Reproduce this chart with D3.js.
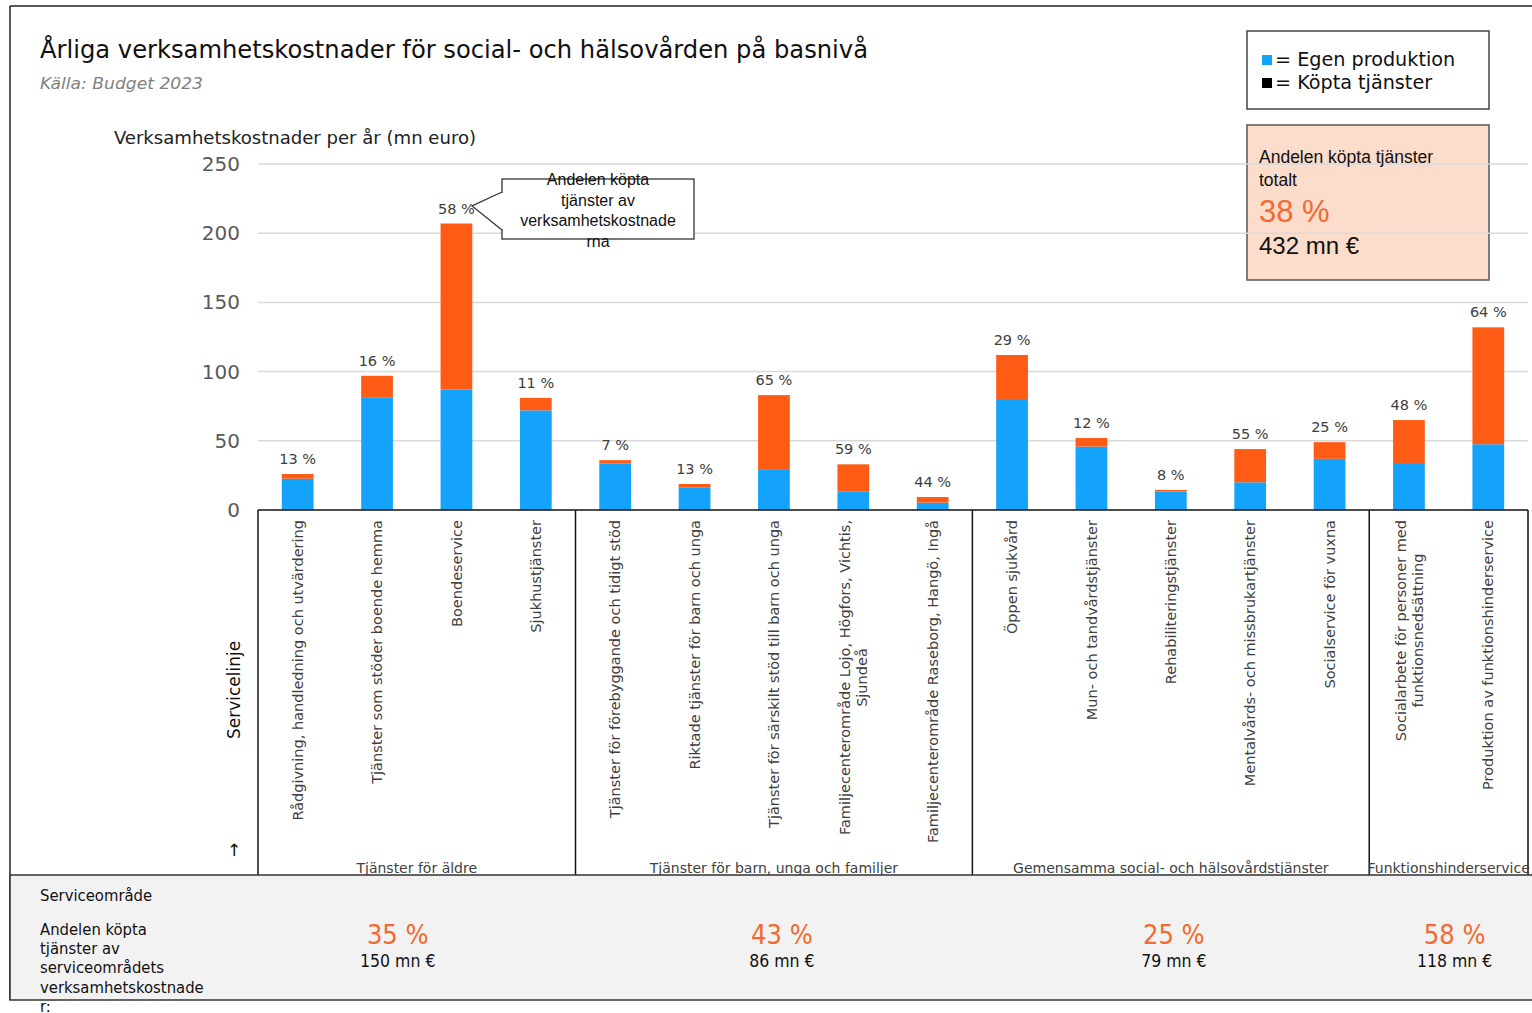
<!DOCTYPE html>
<html><head><meta charset="utf-8">
<script src="https://cdn.jsdelivr.net/npm/d3@7"></script>
<style>body{margin:0;background:#fff}svg{display:block}</style>
</head><body>
<svg id="c" width="1532" height="1013"></svg>
<script>
const categories = [
  "Rådgivning, handledning och utvärdering",
  "Tjänster som stöder boende hemma",
  "Boendeservice",
  "Sjukhustjänster",
  "Tjänster för förebyggande och tidigt stöd",
  "Riktade tjänster för barn och unga",
  "Tjänster för särskilt stöd till barn och unga",
  "Familjecenterområde Lojo, Högfors, Vichtis,\nSjundeå",
  "Familjecenterområde Raseborg, Hangö, Ingå",
  "Öppen sjukvård",
  "Mun- och tandvårdstjänster",
  "Rehabiliteringstjänster",
  "Mentalvårds- och missbrukartjänster",
  "Socialservice för vuxna",
  "Socialarbete för personer med\nfunktionsnedsättning",
  "Produktion av funktionshinderservice"
];
const egenProduktion = [22.6, 81.5, 87, 72, 33.5, 16.4, 29, 13.5, 5.3, 79.5, 45.8, 13.3, 20, 37, 34, 47.5];
const koptaTjanster  = [3.4, 15.5, 120, 9, 2.5, 2.4, 54, 19.5, 4.1, 32.5, 6.2, 1.2, 24, 12, 31, 84.5];
const shareLabels = ["13 %","16 %","58 %","11 %","7 %","13 %","65 %","59 %","44 %","29 %","12 %","8 %","55 %","25 %","48 %","64 %"];
const groups = ["Tjänster för äldre","Tjänster för barn, unga och familjer","Gemensamma social- och hälsovårdstjänster","Funktionshinderservice"];
const groupSizes = [4, 5, 5, 2];
const groupShare = ["35 %","43 %","25 %","58 %"];
const groupKopta = ["150 mn €","86 mn €","79 mn €","118 mn €"];
const yTicks = [0, 50, 100, 150, 200, 250];
const legendItems = ["= Egen produktion", "= Köpta tjänster"];
const totalShare = "38 %";
const totalKopta = "432 mn €";

const BLUE = "#14a3fa", ORANGE = "#fe5c15", ACC = "#f26a2e";
const FONT = "'DejaVu Sans', Verdana, sans-serif";
const COND = "'DejaVu Sans Condensed', 'DejaVu Sans', sans-serif";
const ARIAL = "'Liberation Sans', Arial, sans-serif";
// layout nudges for the bottom summary values (px from group centre)
const summaryShift = [-19, 8, 3, 6];

const svg = d3.select("#c");
const x = d3.scaleBand().domain(d3.range(categories.length)).range([258, 1528]).paddingInner(0.6).paddingOuter(0.3);
const y = d3.scaleLinear().domain([0, 250]).range([510, 164]);

// frame
svg.append("line").attr("x1",10).attr("x2",1532).attr("y1",6).attr("y2",6).attr("stroke","#222").attr("stroke-width",1.5);
svg.append("line").attr("x1",10).attr("x2",10).attr("y1",6).attr("y2",1000).attr("stroke","#222").attr("stroke-width",1.5);

// title
svg.append("text").attr("x",40).attr("y",58).attr("font-family",COND).attr("font-size",24).attr("fill","#111")
  .attr("textLength",828).attr("lengthAdjust","spacingAndGlyphs")
  .text("Årliga verksamhetskostnader för social- och hälsovården på basnivå");
svg.append("text").attr("x",40).attr("y",89).attr("font-family",COND).attr("font-style","italic").attr("font-size",16).attr("fill","#7f7f7f")
  .attr("textLength",163).attr("lengthAdjust","spacingAndGlyphs").text("Källa: Budget 2023");
svg.append("text").attr("x",114).attr("y",144).attr("font-family",COND).attr("font-size",18.5).attr("fill","#222")
  .attr("textLength",362).attr("lengthAdjust","spacingAndGlyphs").text("Verksamhetskostnader per år (mn euro)");

// total box (under gridlines)
svg.append("rect").attr("x",1247).attr("y",125).attr("width",242).attr("height",155).attr("fill","#fcdccb").attr("stroke","#555").attr("stroke-width",1.5);

// gridlines
svg.append("g").selectAll("line").data(yTicks.filter(d=>d>0)).join("line")
  .attr("x1",258).attr("x2",1528).attr("y1",d=>y(d)).attr("y2",d=>y(d)).attr("stroke","#d9d9d9").attr("stroke-width",1.5);

// y axis via d3.axisLeft
const yAxis = svg.append("g").attr("transform","translate(258,0)")
  .call(d3.axisLeft(y).tickValues(yTicks).tickSize(0).tickPadding(18));
yAxis.select(".domain").remove();
yAxis.selectAll("text").attr("font-family",FONT).attr("font-size",20).attr("fill","#595959");

// total box text
const tb = svg.append("g").attr("font-family",ARIAL);
tb.append("text").attr("x",1259).attr("y",163).attr("font-size",17.5).attr("fill","#111").text("Andelen köpta tjänster");
tb.append("text").attr("x",1259).attr("y",186).attr("font-size",17.5).attr("fill","#111").text("totalt");
tb.append("text").attr("x",1259).attr("y",222).attr("font-size",31).attr("fill",ACC).text(totalShare);
tb.append("text").attr("x",1259).attr("y",254).attr("font-size",24).attr("fill","#111").text(totalKopta);

// legend
svg.append("rect").attr("x",1247).attr("y",31).attr("width",242).attr("height",78).attr("fill","#fff").attr("stroke","#444").attr("stroke-width",1.5);
const legColors = [BLUE, "#000"];
legendItems.forEach((t,i)=>{
  svg.append("rect").attr("x",1262).attr("y",55+i*23).attr("width",10).attr("height",10).attr("fill",legColors[i]);
  svg.append("text").attr("x",1275).attr("y",66+i*23).attr("font-family",FONT).attr("font-size",19.2).attr("fill","#111").text(t);
});

// bars
const stackData = categories.map((c,i)=>({i, egen: egenProduktion[i], kopta: koptaTjanster[i]}));
const series = d3.stack().keys(["egen","kopta"])(stackData);
const colors = {egen: BLUE, kopta: ORANGE};
svg.append("g").selectAll("g").data(series).join("g").attr("fill",d=>colors[d.key])
  .selectAll("rect").data(d=>d).join("rect")
  .attr("x",d=>x(d.data.i)).attr("width",x.bandwidth())
  .attr("y",d=>y(d[1])).attr("height",d=>y(d[0])-y(d[1]));

// share labels
svg.append("g").selectAll("text").data(stackData).join("text")
  .attr("x",d=>x(d.i)+x.bandwidth()/2).attr("y",d=>y(d.egen+d.kopta)-10)
  .attr("text-anchor","middle").attr("font-family",FONT).attr("font-size",14.5).attr("fill","#404040")
  .text(d=>shareLabels[d.i]);

// callout
const co = svg.append("g");
co.append("rect").attr("x",502).attr("y",179).attr("width",192).attr("height",60).attr("fill","#fff").attr("stroke","#333").attr("stroke-width",1.3);
co.append("path").attr("d","M502,192 L472,206 L502,230").attr("fill","#fff").attr("stroke","#333").attr("stroke-width",1.3);
co.append("line").attr("x1",502).attr("x2",502).attr("y1",193).attr("y2",229).attr("stroke","#fff").attr("stroke-width",2);
["Andelen köpta","tjänster av","verksamhetskostnade","rna"].forEach((t,i)=>{
  co.append("text").attr("x",598).attr("y",185+i*20.5).attr("text-anchor","middle").attr("font-family",ARIAL).attr("font-size",16).attr("fill","#111").text(t);
});

// axis box
const ax = svg.append("g").attr("stroke","#111").attr("stroke-width",1.5);
ax.append("line").attr("x1",258).attr("x2",1528).attr("y1",510).attr("y2",510);
let cum = 0;
const bounds = [258];
groupSizes.forEach(s=>{ cum += s; bounds.push(cum===categories.length ? 1528 : x(cum) - x.step()*x.paddingInner()/2); });
bounds.forEach(b=>{ ax.append("line").attr("x1",b).attr("x2",b).attr("y1",510).attr("y2",878); });

// category labels
categories.forEach((c,i)=>{
  const lines = c.split("\n");
  const g = svg.append("g").attr("transform",`translate(${x(i)+x.bandwidth()/2},520) rotate(-90)`);
  const ts = lines.map((l,j)=> g.append("text").attr("font-family",FONT).attr("font-size",14.5).attr("fill","#404040")
      .attr("y", (j - (lines.length-1)/2)*17).attr("dy","0.35em").text(l));
  if (lines.length === 1) { ts[0].attr("text-anchor","end"); }
  else {
    const L = d3.max(ts, t=>t.node().getComputedTextLength());
    ts.forEach(t=>t.attr("text-anchor","middle").attr("x",-L/2));
  }
});

// group labels
for (let k=0;k<groups.length;k++){
  svg.append("text").attr("x",(bounds[k]+bounds[k+1])/2).attr("y",873).attr("text-anchor","middle")
    .attr("font-family",FONT).attr("font-size",14).attr("fill","#404040").text(groups[k]);
}

// Servicelinje
svg.append("text").attr("transform","translate(240,690) rotate(-90)").attr("text-anchor","middle")
  .attr("font-family",FONT).attr("font-size",17).attr("fill","#111").text("Servicelinje");
svg.append("text").attr("x",234).attr("y",856).attr("text-anchor","middle").attr("font-family",FONT).attr("font-size",17).attr("fill","#111").text("↑");

// bottom panel
svg.append("rect").attr("x",10).attr("y",875).attr("width",1530).attr("height",125).attr("fill","#f2f2f2").attr("stroke","#333").attr("stroke-width",1.5);
svg.append("text").attr("x",40).attr("y",901).attr("font-family",COND).attr("font-size",16.5).attr("fill","#111").text("Serviceområde");
["Andelen köpta","tjänster av","serviceområdets","verksamhetskostnade","r:"].forEach((t,i)=>{
  svg.append("text").attr("x",40).attr("y",935+i*19.2).attr("font-family",COND).attr("font-size",16.5).attr("fill","#111").text(t);
});
for (let k=0;k<groups.length;k++){
  const cx = (bounds[k]+bounds[k+1])/2 + summaryShift[k];
  svg.append("text").attr("x",cx).attr("y",944).attr("text-anchor","middle").attr("font-family",COND).attr("font-size",27).attr("fill",ACC).text(groupShare[k]);
  svg.append("text").attr("x",cx).attr("y",967).attr("text-anchor","middle").attr("font-family",COND).attr("font-size",17.5).attr("fill","#111").text(groupKopta[k]);
}
</script>
</body></html>
